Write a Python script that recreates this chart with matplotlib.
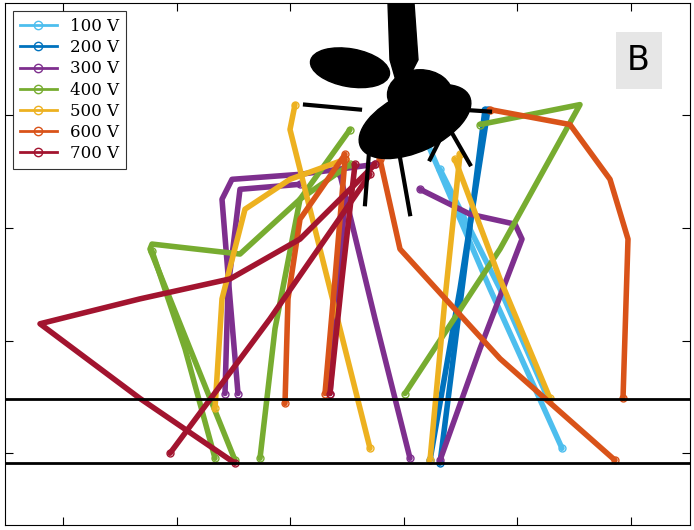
import matplotlib
matplotlib.use("Agg")
import matplotlib.pyplot as plt
from matplotlib.patches import Ellipse, Polygon
from matplotlib.lines import Line2D

labels = ["100 V", "200 V", "300 V", "400 V", "500 V", "600 V", "700 V"]
colors = ["#4DBEEE", "#0072BD", "#7E2F8E", "#77AC30", "#EDB120", "#D95319", "#A2142F"]
tracks = {
    "100 V": [[(428,145),(490,290),(562,450)], [(440,170),(500,290),(548,400)]],
    "200 V": [[(485,110),(462,290),(440,465)], [(488,110),(460,290),(430,462)]],
    "300 V": [[(375,165),(300,175),(232,180),(222,200),(230,300),(238,395)],
              [(300,185),(240,190),(228,290),(225,395)],
              [(345,200),(337,300),(330,395)],
              [(420,190),(470,215),(515,225),(522,240),(480,350),(440,462)],
              [(340,175),(375,320),(410,460)]],
    "400 V": [[(350,165),(300,200),(240,255),(152,245),(150,250),(190,350),(235,462)],
              [(152,252),(185,350),(215,460)],
              [(350,130),(300,200),(275,330),(260,460)],
              [(480,125),(530,115),(580,105),(500,250),(405,395)]],
    "500 V": [[(295,105),(290,130),(330,290),(370,450)],
              [(345,160),(290,180),(245,210),(222,300),(215,410)],
              [(460,155),(445,300),(430,462)],
              [(455,160),(500,280),(550,400)]],
    "600 V": [[(490,110),(570,125),(610,180),(628,240),(623,400)],
              [(380,160),(400,250),(500,360),(615,462)],
              [(345,155),(300,220),(288,300),(285,405)],
              [(345,160),(335,280),(325,395)]],
    "700 V": [[(375,165),(300,240),(230,280),(140,300),(40,325),(140,400),(235,465)],
              [(370,175),(270,320),(170,455)],
              [(355,165),(342,280),(330,395)]],
}

fig = plt.figure(figsize=(6.94, 5.30), dpi=100)
ax = fig.add_axes([5/694, 5/530, 685/694, 522/530])
ax.set_xlim(5, 690)
ax.set_ylim(527, 3)

for lab, col in zip(labels, colors):
    for tr in tracks[lab]:
        xs, ys = zip(*tr)
        ax.plot(xs, ys, '-', color=col, lw=4, marker='o', ms=5, mfc='none',
                markevery=[0, len(xs)-1], solid_capstyle='round', solid_joinstyle='round')

# mosquito silhouette
ax.add_patch(Ellipse((415, 122), 120, 60, angle=-25, color='black', zorder=5))
ax.add_patch(Ellipse((350, 68), 80, 38, angle=10, color='black', zorder=5))
ax.add_patch(Polygon([(388, 3), (414, 3), (418, 60), (400, 95), (390, 60)], color='black', zorder=5))
ax.add_patch(Ellipse((420, 95), 65, 50, color='black', zorder=5))
for seg in [[(370,140),(365,205)], [(395,130),(410,215)], [(450,130),(470,165)],
            [(360,110),(305,105)], [(460,110),(490,112)], [(440,140),(430,160)]]:
    xs, ys = zip(*seg)
    ax.plot(xs, ys, color='black', lw=3, zorder=5)

ax.axhline(401, color='black', lw=2)
ax.axhline(465, color='black', lw=2)

ax.set_xticks([63, 177, 290, 404, 517, 631])
ax.set_yticks([115, 229, 342, 455])
ax.set_xticklabels([]); ax.set_yticklabels([])
ax.tick_params(direction='in', length=6, top=True, right=True)

handles = [Line2D([], [], color=c, lw=2, marker='o', ms=6, mfc='none') for c in colors]
leg = ax.legend(handles, labels, loc='upper left', prop={'family': 'DejaVu Serif', 'size': 12},
                fancybox=False, edgecolor='black', handlelength=2.2, borderpad=0.4,
                labelspacing=0.25)
leg.get_frame().set_linewidth(0.8)

ax.text(0.925, 0.89, "B", transform=ax.transAxes, fontsize=24, ha='center', va='center',
        bbox=dict(boxstyle='square,pad=0.35', fc='#e6e6e6', ec='none'))

fig.savefig("out.png", dpi=100)
